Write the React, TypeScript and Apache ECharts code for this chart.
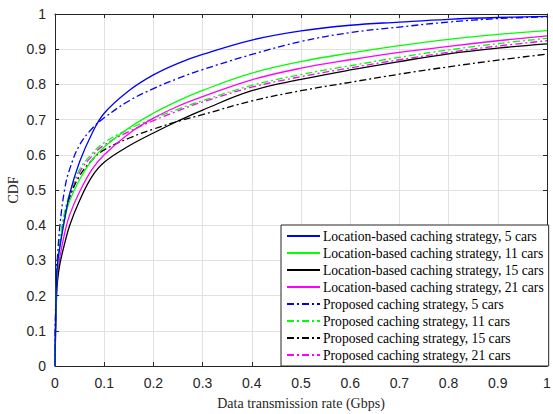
import React, { useEffect, useRef } from "react";
import * as echarts from "echarts";

const xs = [0, 0.001, 0.003, 0.005, 0.01, 0.02, 0.03, 0.05, 0.075, 0.1, 0.15, 0.2, 0.25, 0.3, 0.4, 0.5, 0.6, 0.7, 0.8, 0.9, 1.0];

const loc5 = [0, 0.12, 0.24, 0.29, 0.34, 0.42, 0.49, 0.58, 0.66, 0.718, 0.782, 0.827, 0.86, 0.885, 0.926, 0.952, 0.968, 0.977, 0.985, 0.99, 0.993];
const loc11 = [0, 0.1, 0.23, 0.28, 0.34, 0.42, 0.47, 0.53, 0.585, 0.622, 0.676, 0.718, 0.753, 0.783, 0.832, 0.865, 0.889, 0.91, 0.928, 0.942, 0.953];
const loc15 = [0, 0.08, 0.19, 0.24, 0.29, 0.35, 0.4, 0.47, 0.538, 0.579, 0.625, 0.662, 0.696, 0.727, 0.782, 0.814, 0.841, 0.865, 0.887, 0.903, 0.915];
const loc21 = [0, 0.09, 0.21, 0.26, 0.31, 0.38, 0.43, 0.495, 0.558, 0.6, 0.66, 0.704, 0.738, 0.765, 0.813, 0.846, 0.87, 0.891, 0.908, 0.924, 0.938];
const pro5 = [0, 0.15, 0.27, 0.31, 0.4, 0.505, 0.56, 0.628, 0.674, 0.705, 0.753, 0.788, 0.817, 0.842, 0.885, 0.922, 0.947, 0.963, 0.977, 0.987, 0.992];
const pro11 = [0, 0.13, 0.25, 0.3, 0.36, 0.44, 0.49, 0.558, 0.603, 0.635, 0.673, 0.703, 0.73, 0.754, 0.797, 0.828, 0.853, 0.877, 0.898, 0.916, 0.931];
const pro15 = [0, 0.12, 0.24, 0.29, 0.35, 0.43, 0.48, 0.54, 0.585, 0.614, 0.647, 0.673, 0.695, 0.714, 0.753, 0.782, 0.806, 0.829, 0.85, 0.869, 0.886];
const pro21 = [0, 0.12, 0.24, 0.29, 0.35, 0.43, 0.48, 0.55, 0.596, 0.628, 0.666, 0.697, 0.725, 0.75, 0.792, 0.822, 0.847, 0.87, 0.891, 0.909, 0.924];

const seriesNames = [
  "Location-based caching strategy, 5 cars",
  "Location-based caching strategy, 11 cars",
  "Location-based caching strategy, 15 cars",
  "Location-based caching strategy, 21 cars",
  "Proposed caching strategy, 5 cars",
  "Proposed caching strategy, 11 cars",
  "Proposed caching strategy, 15 cars",
  "Proposed caching strategy, 21 cars",
];
const seriesData = [loc5, loc11, loc15, loc21, pro5, pro11, pro15, pro21];
const seriesColors = ["#0000ff", "#00ff00", "#000000", "#ff00ff", "#0000ff", "#00ff00", "#000000", "#ff00ff"];
const seriesDashed = [false, false, false, false, true, true, true, true];

const xTitle = "Data transmission rate (Gbps)";
const yTitle = "CDF";

const fmt = (v: number) => String(+v.toFixed(1));

export default function App() {
  const ref = useRef<HTMLDivElement>(null);
  useEffect(() => {
    if (!ref.current) return;
    const chart = echarts.init(ref.current, undefined, { renderer: "svg" });
    const axisColor = "#262626";
    const labelFont = { fontFamily: "'Liberation Sans', Arial, sans-serif", fontSize: 14, color: axisColor };
    const serif = "'Liberation Serif', 'Times New Roman', serif";
    const baseAxis = {
      type: "value" as const,
      min: 0,
      max: 1,
      interval: 0.1,
      axisLine: { show: true, onZero: false, lineStyle: { color: axisColor, width: 1 } },
      axisTick: { show: true, inside: true, length: 4, lineStyle: { color: axisColor } },
    };
    chart.setOption({
      animation: false,
      backgroundColor: "#ffffff",
      grid: { left: 55, top: 14, width: 492, height: 352, containLabel: false, outerBoundsMode: "none" },
      xAxis: [
        {
          ...baseAxis,
          position: "bottom",
          name: xTitle,
          nameLocation: "middle",
          nameGap: 30,
          nameMoveOverlap: false,
          nameTextStyle: { fontFamily: serif, fontSize: 14, color: axisColor },
          axisLabel: { ...labelFont, margin: 10, formatter: fmt },
          splitLine: { show: true, lineStyle: { color: "#e1e1e1", width: 1 } },
        },
        {
          ...baseAxis,
          position: "top",
          axisLabel: { show: false },
          splitLine: { show: false },
        },
      ],
      yAxis: [
        {
          ...baseAxis,
          position: "left",
          name: yTitle,
          nameLocation: "middle",
          nameGap: 35,
          nameMoveOverlap: false,
          nameRotate: 90,
          nameTextStyle: { fontFamily: serif, fontSize: 14, color: axisColor },
          axisLabel: { ...labelFont, margin: 9, formatter: fmt },
          splitLine: { show: true, lineStyle: { color: "#e1e1e1", width: 1 } },
        },
        {
          ...baseAxis,
          position: "right",
          axisLabel: { show: false },
          splitLine: { show: false },
        },
      ],
      legend: {
        orient: "vertical",
        left: 281,
        top: 225,
        padding: [4, 5, 4, 5],
        itemWidth: 33,
        itemHeight: 14,
        itemGap: 3,
        backgroundColor: "#ffffff",
        borderColor: axisColor,
        borderWidth: 1,
        borderRadius: 0,
        itemStyle: { color: "rgba(0,0,0,0)", borderColor: "rgba(0,0,0,0)", borderWidth: 0, opacity: 0 },
        textStyle: { fontFamily: serif, fontSize: 13.6, color: "#000", padding: [0, 0, 0, -2] },
        data: seriesNames,
        selectedMode: false,
      },
      series: seriesNames.map((name, i) => ({
        name,
        type: "line",
        xAxisIndex: 0,
        yAxisIndex: 0,
        data: xs.map((x, j) => [x, seriesData[i][j]]),
        showSymbol: false,
        symbol: "none",
        smooth: 0.4,
        z: 10 - i,
        lineStyle: {
          color: seriesColors[i],
          width: 1.3,
          type: seriesDashed[i] ? [7, 3, 2, 3] : "solid",
        },
        itemStyle: { color: seriesColors[i] },
      })),
    });
    return () => chart.dispose();
  }, []);
  return <div ref={ref} style={{ width: 553, height: 414, position: "absolute", left: 0, top: 0 }} />;
}
